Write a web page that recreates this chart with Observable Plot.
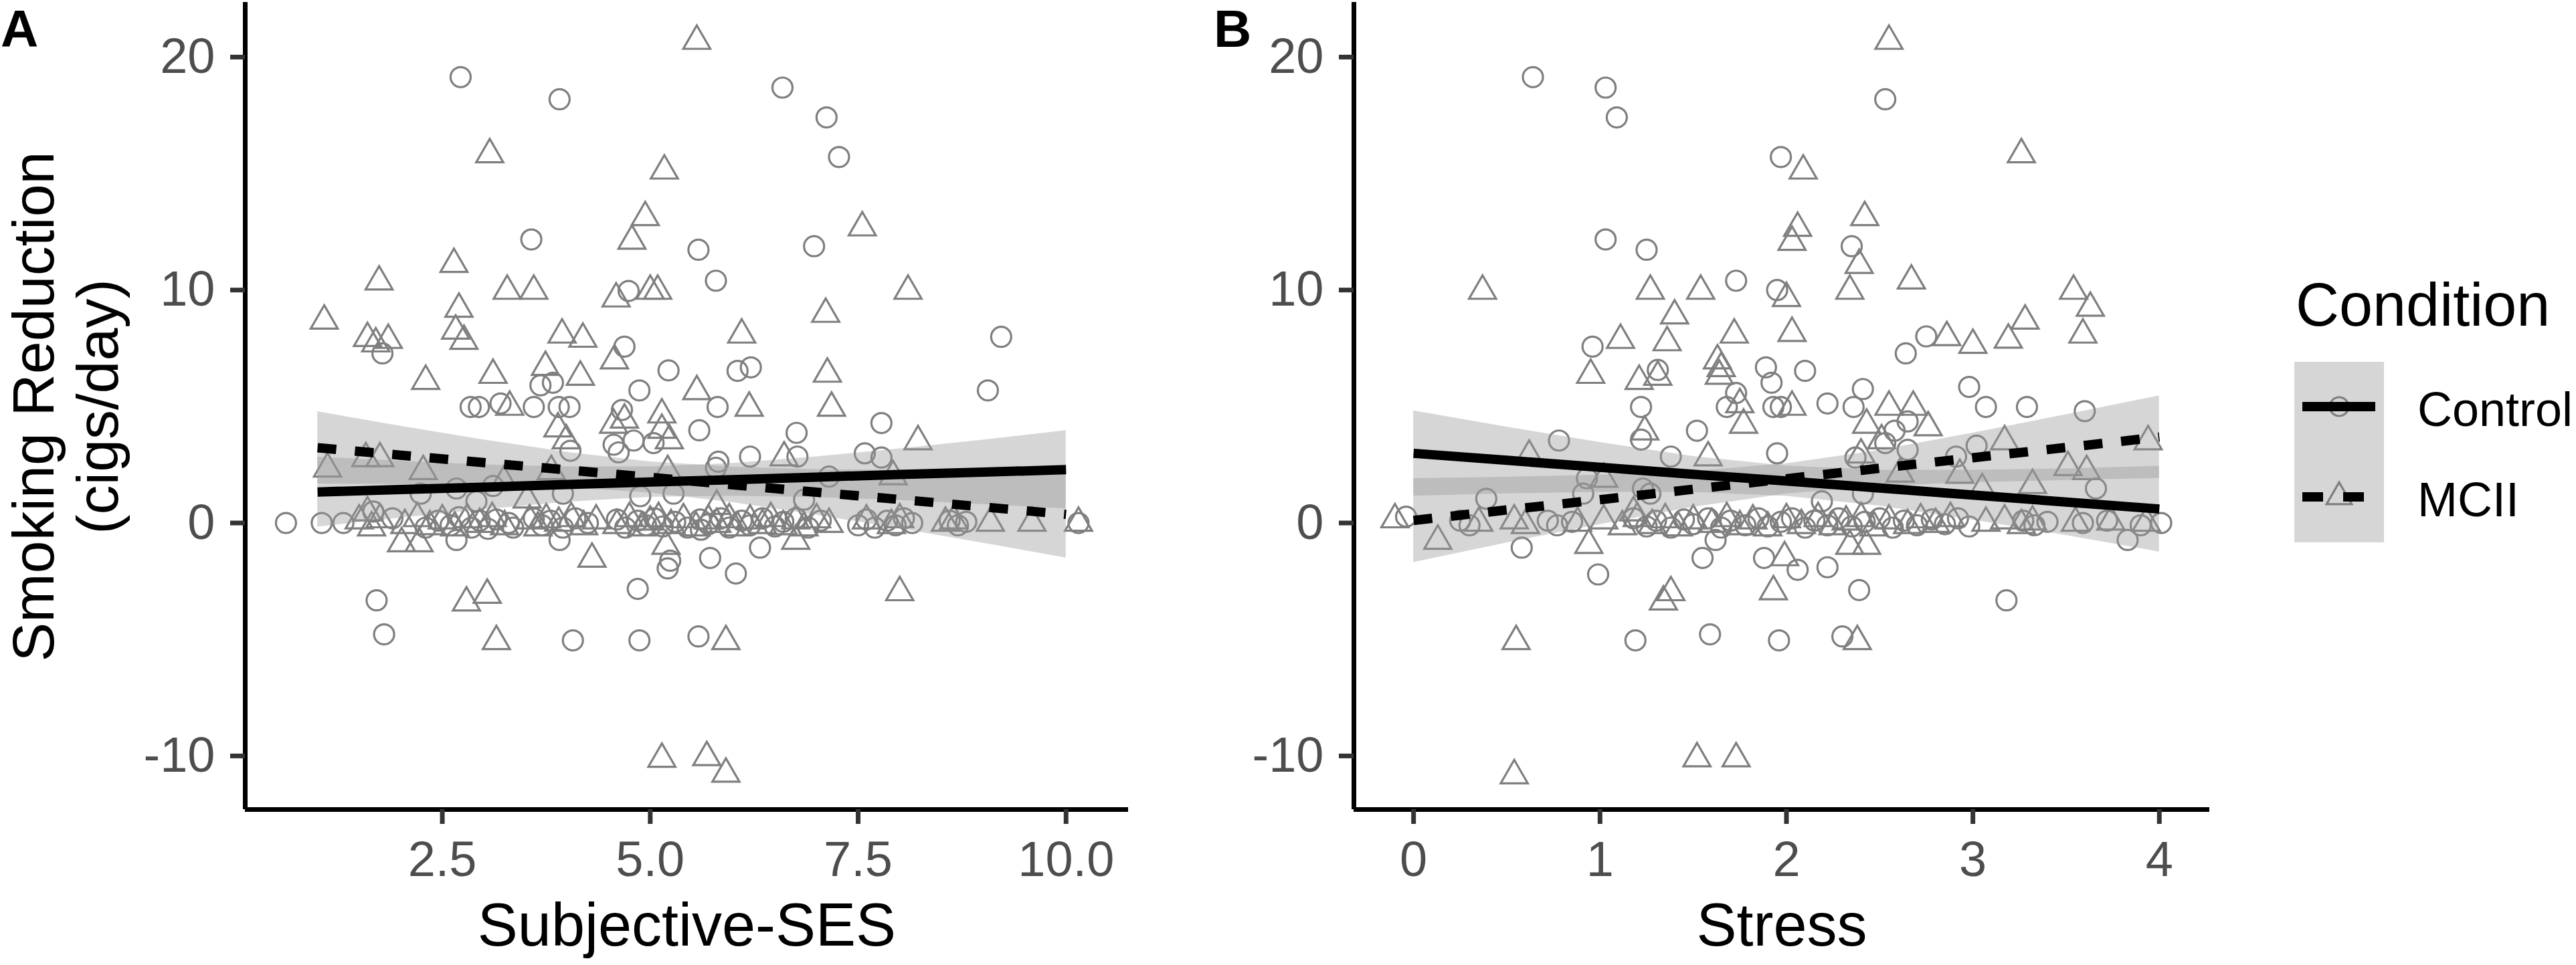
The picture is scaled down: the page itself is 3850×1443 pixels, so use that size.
<!DOCTYPE html>
<html>
<head>
<meta charset="utf-8">
<script src="https://cdn.jsdelivr.net/npm/d3@7"></script>
<script src="https://cdn.jsdelivr.net/npm/@observablehq/plot@0.6"></script>
<style>
  html, body { margin: 0; padding: 0; background: #ffffff; }
  #wrap { position: relative; width: 3850px; height: 1443px; background: #ffffff; overflow: hidden;
          font-family: "Liberation Sans", Arial, sans-serif; }
  .abs { position: absolute; top: 0; }
</style>
</head>
<body>
<div id="wrap">
  <div id="pa" class="abs" style="left:0px"></div>
  <div id="pb" class="abs" style="left:1750px"></div>
</div>
<script>
// ---------------- data ----------------
const conditions = ["Control", "MCII"];
const yTicks = [-10, 0, 10, 20];
const sesTicks = [2.5, 5.0, 7.5, 10.0];
const stressTicks = [0, 1, 2, 3, 4];

// Panel A: Subjective-SES vs smoking reduction
const sesControl = [
  [2.72,19.14],[3.91,18.19],[3.57,12.17],[1.78,7.28],[4.74,9.96],[4.69,7.57],[5.22,6.55],[4.87,5.69],[3.68,5.91],[3.83,6.02],
  [2.84,4.98],[2.94,4.98],[3.2,5.13],[3.6,4.98],[3.9,4.98],[4.03,4.98],[4.66,4.85],[4.56,3.36],[4.62,3.03],[4.8,3.54],
  [5.04,3.43],[4.04,3.1],[2.24,1.26],[2.67,1.48],[2.91,0.93],[3.11,1.59],[3.95,1.26],[4.88,1.15],[5.28,1.26],[1.67,0.49],
  [2.67,-0.73],[3.91,-0.73],[5.24,-1.62],[5.21,-1.95],[4.85,-2.83],[1.71,-3.32],[1.8,-4.78],[4.07,-5.04],[4.87,-5.04],
  [6.59,18.69],[7.12,17.41],[7.27,15.71],[5.58,11.73],[6.97,11.88],[5.79,10.4],[6.05,6.53],[6.21,6.68],[5.81,4.98],[5.59,3.98],
  [6.76,3.87],[6.2,2.85],[6.77,2.85],[5.82,2.63],[7.78,4.29],[7.58,2.99],[7.78,2.81],[9.22,7.99],[9.06,5.69],[7.15,1.99],
  [6.85,1.0],[5.79,2.37],[5.61,-0.29],[5.72,-1.5],[6.32,-1.06],[6.03,-2.17],[5.58,-4.87],
  [0.62,0],[1.05,0],[1.31,0],[1.9,0.2],[2.3,-0.2],[2.45,0.1],[2.6,-0.1],[2.7,0.25],[2.85,-0.2],[2.95,0.1],
  [3.05,-0.25],[3.15,0.15],[3.3,0],[3.35,-0.2],[3.6,0.2],[3.7,-0.1],[3.8,0.1],[3.95,-0.2],[4.1,0.2],[4.25,0],
  [4.6,0.15],[4.7,-0.2],[4.85,0.1],[4.95,-0.1],[5.05,0.2],[5.15,-0.15],[5.3,0.05],[5.45,-0.2],[5.6,0.15],[5.7,-0.05],
  [5.85,0.2],[5.95,-0.2],[6.1,0.1],[6.2,-0.1],[6.35,0.2],[6.5,-0.15],[6.6,0.05],[6.75,0.2],[6.9,-0.2],[7.05,0.1],
  [7.5,-0.1],[7.6,0.15],[7.7,-0.2],[7.85,0.1],[7.95,-0.1],[8.05,0.2],[8.15,0],[8.6,0.1],[8.7,-0.1],[8.8,0.05],[10.15,0]
];
const sesMcii = [
  [3.07,15.82],[5.17,15.12],[4.94,13.12],[4.78,12.11],[2.64,11.11],[1.74,10.36],[3.28,9.96],[3.6,9.96],[4.59,9.63],[5.0,9.96],
  [5.09,9.96],[1.08,8.68],[2.7,9.19],[1.6,7.93],[1.7,7.7],[1.85,7.85],[2.66,8.25],[2.76,7.81],[2.3,6.09],[3.11,6.35],
  [3.74,6.69],[3.94,8.08],[4.19,7.9],[4.16,6.27],[4.57,6.97],[3.31,4.98],[3.89,4.05],[3.99,3.54],[4.56,4.21],[4.69,4.43],
  [5.14,4.65],[5.14,3.99],[5.23,3.54],[1.12,2.33],[1.58,2.77],[1.75,2.77],[2.27,2.22],[3.24,1.77],[3.81,2.22],[5.21,2.22],
  [3.52,1.0],[1.6,0.45],[2.01,-0.88],[2.22,-0.88],[4.3,-1.54],[5.19,-0.99],[2.79,-3.42],[3.04,-3.09],[3.15,-5.08],[5.14,-10.13],
  [5.56,20.69],[7.55,12.68],[8.1,9.96],[7.11,8.97],[6.1,8.08],[7.13,6.4],[5.56,5.65],[6.19,4.94],[7.18,4.94],[8.22,3.5],
  [6.61,2.81],[7.92,2.0],[5.8,0.73],[6.75,-0.77],[8.0,-2.98],[5.91,-5.08],[5.68,-10.06],[5.91,-10.77],
  [1.5,0.1],[1.65,-0.2],[1.75,0.15],[2.05,-0.1],[2.2,0.2],[2.35,-0.15],[2.5,0.1],[2.65,-0.2],[2.8,0.15],[2.95,-0.05],
  [3.1,0.2],[3.25,-0.15],[3.55,0.1],[3.65,-0.2],[3.75,0.15],[3.9,0],[4.05,0.2],[4.2,-0.15],[4.35,0.1],[4.6,-0.1],
  [4.75,0.2],[4.9,-0.2],[5.0,0.05],[5.1,0.2],[5.25,-0.1],[5.4,0.15],[5.55,-0.2],[5.7,0.1],[5.8,-0.05],[5.95,0.15],
  [6.05,-0.2],[6.2,0.1],[6.35,-0.1],[6.45,0.2],[6.6,-0.15],[6.75,0.1],[6.85,-0.2],[7.0,0.15],[7.15,-0.05],[7.6,0.1],
  [7.9,-0.1],[8.0,0.15],[8.55,0],[8.65,0.1],[9.09,0],[9.59,0],[10.15,0]
];

// Panel B: Stress vs smoking reduction
const stressControl = [
  [0.64,19.14],[1.03,18.69],[1.09,17.41],[1.97,15.71],[1.03,12.17],[1.25,11.73],[1.73,10.4],[1.95,10.0],[0.96,7.57],[1.31,6.57],
  [1.89,6.68],[1.92,6.02],[1.22,4.98],[1.68,4.98],[1.73,5.58],[1.93,4.98],[1.97,4.98],[1.22,3.58],[0.78,3.54],[1.52,3.96],
  [1.38,2.85],[1.95,2.99],[0.93,1.92],[0.91,1.26],[1.23,1.48],[1.27,1.26],[0.39,1.04],[-0.04,0.27],[0.58,-1.06],[1.55,-1.5],
  [1.62,-0.73],[0.99,-2.21],[1.88,-1.5],[1.19,-5.04],[1.59,-4.78],[1.96,-5.04],
  [2.53,18.19],[2.35,11.88],[2.75,8.01],[2.64,7.28],[2.1,6.53],[2.98,5.84],[2.22,5.13],[2.41,5.75],[2.36,4.98],[3.07,4.98],
  [3.29,4.98],[3.6,4.8],[2.58,3.96],[2.65,4.36],[2.53,3.43],[2.37,2.81],[2.65,3.14],[2.91,2.85],[3.02,3.32],[2.41,1.26],
  [2.19,0.93],[3.66,1.48],[3.83,-0.73],[2.06,-2.01],[2.22,-1.9],[2.39,-2.88],[3.18,-3.32],[2.3,-4.87],
  [0.25,0.1],[0.3,-0.1],[0.72,0.1],[0.77,-0.1],[0.85,0.05],[1.18,0.2],[1.25,-0.15],[1.3,0.1],[1.38,-0.2],[1.45,0.15],
  [1.5,-0.05],[1.58,0.2],[1.65,-0.2],[1.7,0.1],[1.78,-0.1],[1.85,0.2],[1.9,-0.15],[1.97,0.05],[2.03,0.2],[2.1,-0.2],
  [2.15,0.1],[2.22,-0.1],[2.28,0.2],[2.35,-0.15],[2.42,0.05],[2.5,0.2],[2.57,-0.2],[2.63,0.1],[2.7,-0.1],[2.78,0.15],
  [2.85,-0.05],[2.92,0.2],[2.98,-0.15],[3.27,0.1],[3.33,-0.1],[3.4,0.05],[3.59,0],[3.72,0.1],[3.9,-0.1],[4.01,0]
];
const stressMcii = [
  [0.37,9.96],[1.27,9.96],[1.54,9.96],[1.4,8.9],[1.11,7.85],[1.36,7.75],[1.72,8.08],[1.63,6.97],[1.65,6.64],[1.64,6.31],
  [0.95,6.35],[1.21,6.09],[1.31,6.27],[1.75,5.09],[1.77,4.21],[1.24,3.92],[1.58,2.81],[0.62,2.88],[1.02,1.89],[1.18,0.45],
  [0.13,-0.77],[0.94,-0.95],[1.38,-2.98],[1.34,-3.38],[1.93,-2.94],[1.99,-1.48],[0.55,-5.08],[0.54,-10.84],[1.52,-10.11],[1.73,-10.11],
  [2.55,20.69],[2.09,15.12],[3.26,15.82],[2.42,13.12],[2.06,12.66],[2.03,12.06],[2.39,11.07],[2.67,10.4],[2.34,9.96],[2.0,9.65],
  [3.54,9.96],[3.63,9.23],[3.59,8.08],[3.28,8.68],[3.19,7.86],[2.86,7.97],[3.0,7.64],[2.03,8.15],[2.03,4.98],[2.43,4.21],
  [2.55,4.98],[2.68,4.98],[2.76,4.1],[2.51,3.54],[2.4,2.93],[3.17,3.5],[3.94,3.5],[3.51,2.39],[3.61,2.22],[2.61,2.11],
  [2.93,2.06],[3.32,1.62],[3.05,1.44],[2.34,-0.99],[2.43,-0.99],[2.38,-5.08],
  [-0.1,0.15],[0.35,0],[0.54,0.1],[0.6,-0.1],[0.88,0],[1.02,0.1],[1.12,-0.15],[1.2,0.2],[1.28,-0.1],[1.35,0.15],
  [1.42,-0.2],[1.5,0.1],[1.6,-0.05],[1.68,0.2],[1.75,-0.15],[1.82,0.1],[1.9,-0.2],[2.0,0.15],[2.08,-0.1],[2.17,0.2],
  [2.25,-0.15],[2.32,0.05],[2.4,0.2],[2.47,-0.2],[2.55,0.1],[2.65,-0.1],[2.72,0.15],[2.8,-0.05],[2.88,0.2],[3.07,0],
  [3.17,0.1],[3.26,-0.1],[3.32,0.05],[3.55,0],[3.74,0.05],[3.93,0]
];

// Fitted lines with confidence bands
const sesFitX     = [1, 2, 3, 4, 5, 6, 7, 8, 9, 10];
const sesCtrlFit  = [1.33, 1.44, 1.54, 1.65, 1.76, 1.86, 1.97, 2.08, 2.18, 2.29];
const sesCtrlLo   = [-0.17, 0.22, 0.58, 0.90, 1.11, 1.16, 1.10, 0.97, 0.80, 0.61];
const sesCtrlHi   = [2.83, 2.66, 2.50, 2.41, 2.41, 2.56, 2.84, 3.19, 3.56, 3.97];
const sesMciiFit  = [3.23, 2.91, 2.59, 2.28, 1.96, 1.64, 1.32, 1.01, 0.69, 0.37];
const sesMciiLo   = [1.68, 1.66, 1.61, 1.52, 1.29, 0.88, 0.34, -0.24, -0.86, -1.50];
const sesMciiHi   = [4.78, 4.16, 3.57, 3.04, 2.63, 2.40, 2.30, 2.26, 2.24, 2.24];

const stressFitX    = [0, 0.5, 1, 1.5, 2, 2.5, 3, 3.5, 4];
const stressCtrlFit = [2.99, 2.69, 2.39, 2.09, 1.80, 1.50, 1.20, 0.90, 0.60];
const stressCtrlLo  = [1.16, 1.26, 1.32, 1.32, 1.15, 0.73, 0.13, -0.53, -1.24];
const stressCtrlHi  = [4.82, 4.12, 3.46, 2.86, 2.45, 2.27, 2.27, 2.33, 2.44];
const stressMciiFit = [0.11, 0.56, 1.00, 1.45, 1.90, 2.35, 2.80, 3.24, 3.69];
const stressMciiLo  = [-1.69, -0.85, -0.06, 0.68, 1.25, 1.58, 1.74, 1.83, 1.92];
const stressMciiHi  = [1.91, 1.97, 2.06, 2.22, 2.55, 3.12, 3.86, 4.65, 5.46];

// ---------------- helpers ----------------
const FONT = "'Liberation Sans', Arial, Helvetica, sans-serif";
const PT_STROKE = "#7f7f7f";
const toPts = (arr, cond) => arr.map(([x, y]) => ({x, y, cond}));
const toFit = (xs, fit, lo, hi, cond) => xs.map((x, i) => ({x, fit: fit[i], lo: lo[i], hi: hi[i], cond}));
const plainInt = (d) => String(d);   // hyphen-minus like the reference ("-10")

function panel({width, marginLeft, marginRight, xDomain, xTicks, xFormat, xTitle, ctrlPts, mciiPts, ctrlFit, mciiFit}) {
  const fits = ctrlFit.concat(mciiFit);
  return Plot.plot({
    width, height: 1443,
    marginLeft, marginRight, marginTop: 3, marginBottom: 233,
    x: {domain: xDomain},
    y: {domain: [-12.3, 22.35]},
    style: {fontFamily: FONT, fontSize: "74px", color: "#4d4d4d", background: "transparent", overflow: "visible"},
    marks: [
      Plot.dot(ctrlPts, {x: "x", y: "y", symbol: "circle", r: 15, fill: "none", stroke: PT_STROKE, strokeWidth: 3.2}),
      Plot.dot(mciiPts, {x: "x", y: "y", symbol: "triangle", r: 15, fill: "none", stroke: PT_STROKE, strokeWidth: 3.2}),
      Plot.areaY(fits, {x: "x", y1: "lo", y2: "hi", z: "cond", fill: "#999999", fillOpacity: 0.4}),
      Plot.line(ctrlFit, {x: "x", y: "fit", stroke: "#000000", strokeWidth: 14, strokeLinecap: "butt"}),
      Plot.line(mciiFit, {x: "x", y: "fit", stroke: "#000000", strokeWidth: 14, strokeLinecap: "butt", strokeDasharray: "28,28"}),
      Plot.ruleX([xDomain[0]], {stroke: "#000000", strokeWidth: 7}),
      Plot.ruleY([-12.3], {stroke: "#000000", strokeWidth: 7}),
      Plot.axisX({ticks: xTicks, tickFormat: xFormat, tickSize: 22, tickPadding: 25, stroke: "#333333", strokeWidth: 7,
                  fill: "#4d4d4d", fontSize: 74, label: null}),
      Plot.axisY({ticks: yTicks, tickFormat: plainInt, tickSize: 22, tickPadding: 23, stroke: "#333333", strokeWidth: 7,
                  fill: "#4d4d4d", fontSize: 74, label: null}),
      Plot.text([xTitle], {frameAnchor: "bottom", lineAnchor: "bottom", dy: 203, fontSize: 90, fill: "#000000"})
    ]
  });
}

const plotA = panel({
  width: 1750, marginLeft: 366, marginRight: 64,
  xDomain: [0.13, 10.75], xTicks: sesTicks, xFormat: d3.format(".1f"), xTitle: "Subjective-SES",
  ctrlPts: toPts(sesControl, conditions[0]), mciiPts: toPts(sesMcii, conditions[1]),
  ctrlFit: toFit(sesFitX, sesCtrlFit, sesCtrlLo, sesCtrlHi, conditions[0]),
  mciiFit: toFit(sesFitX, sesMciiFit, sesMciiLo, sesMciiHi, conditions[1])
});
const plotB = panel({
  width: 1600, marginLeft: 273, marginRight: 48,
  xDomain: [-0.32, 4.27], xTicks: stressTicks, xFormat: plainInt, xTitle: "Stress",
  ctrlPts: toPts(stressControl, conditions[0]), mciiPts: toPts(stressMcii, conditions[1]),
  ctrlFit: toFit(stressFitX, stressCtrlFit, stressCtrlLo, stressCtrlHi, conditions[0]),
  mciiFit: toFit(stressFitX, stressMciiFit, stressMciiLo, stressMciiHi, conditions[1])
});
document.getElementById("pa").appendChild(plotA);
document.getElementById("pb").appendChild(plotB);

// ---------------- overlay: panel tags, y title, legend ----------------
const ov = d3.select("#wrap").append("svg")
  .attr("width", 3850).attr("height", 1443)
  .style("position", "absolute").style("left", "0px").style("top", "0px")
  .style("font-family", FONT);

ov.append("text").attr("x", 1).attr("y", 70).attr("font-size", 78).attr("font-weight", "bold").attr("fill", "#000").text("A");
ov.append("text").attr("x", 1814).attr("y", 70).attr("font-size", 78).attr("font-weight", "bold").attr("fill", "#000").text("B");

const yTitle = ["Smoking Reduction", "(cigs/day)"];
const yTitleX = [80, 176];
yTitle.forEach((t, i) => {
  ov.append("text")
    .attr("transform", `translate(${yTitleX[i]},608) rotate(-90)`)
    .attr("text-anchor", "middle").attr("font-size", 88).attr("fill", "#000").text(t);
});

// legend
ov.append("text").attr("x", 3431).attr("y", 487).attr("font-size", 90).attr("fill", "#000").text("Condition");
ov.append("rect").attr("x", 3429).attr("y", 541).attr("width", 134).attr("height", 270).attr("fill", "#d6d6d6");
const keyY = [608, 743];
const keyDash = [null, "31,30"];
const keySymbol = [d3.symbolCircle, d3.symbolTriangle];
conditions.forEach((c, i) => {
  ov.append("path")
    .attr("transform", `translate(3496,${keyY[i]})`)
    .attr("d", d3.symbol(keySymbol[i], Math.PI * 14 * 14)())
    .attr("fill", "none").attr("stroke", PT_STROKE).attr("stroke-width", 3.2);
  const ln = ov.append("line").attr("x1", 3441).attr("x2", 3550).attr("y1", keyY[i]).attr("y2", keyY[i])
    .attr("stroke", "#000").attr("stroke-width", 14);
  if (keyDash[i]) ln.attr("stroke-dasharray", keyDash[i]);
  ov.append("text").attr("x", 3613).attr("y", keyY[i] + 29).attr("font-size", 72).attr("fill", "#000").text(c);
});
</script>
</body>
</html>
